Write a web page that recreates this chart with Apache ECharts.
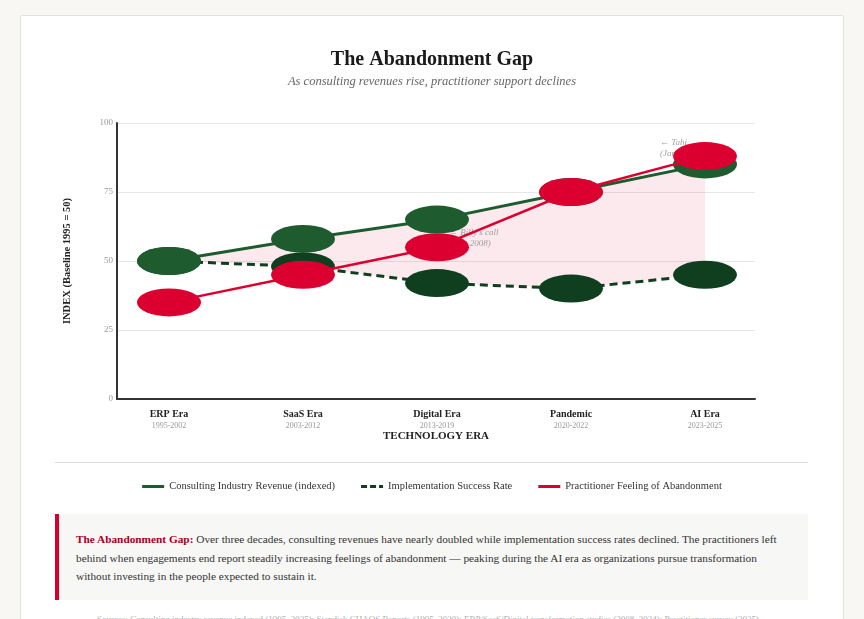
<!DOCTYPE html>
<html>
<head>
<meta charset="utf-8">
<script src="https://cdn.jsdelivr.net/npm/echarts@6/dist/echarts.min.js"></script>
<style>
  html, body { margin:0; padding:0; background:#f8f7f4; width:864px; height:619px; overflow:hidden; font-family:'Liberation Serif', Georgia, serif; }
  #card { position:absolute; left:20px; top:15px; width:822px; height:640px; background:#fff; border:1px solid #e2e2e2; border-radius:2px; }
  #chart { position:absolute; left:0; top:0; width:864px; height:505px; }
  #sep { position:absolute; left:55px; top:462px; width:753px; height:1px; background:#dedede; }
  #callout { position:absolute; left:55px; top:514px; width:753px; height:86px; background:#f7f7f5; border-left:4px solid #d90030; box-sizing:border-box; padding:16px 18px 0 17px; font-size:11.3px; line-height:18.5px; color:#333; }
  #callout b { color:#a8001c; }
  #source { position:absolute; left:97px; top:614px; width:720px; font-size:9px; color:#b0b0b0; white-space:nowrap; overflow:hidden; }
</style>
</head>
<body>
<div id="card"></div>
<div id="chart"></div>
<div id="sep"></div>
<div id="callout"><b>The Abandonment Gap:</b> Over three decades, consulting revenues have nearly doubled while implementation success rates declined. The practitioners left behind when engagements end report steadily increasing feelings of abandonment — peaking during the AI era as organizations pursue transformation without investing in the people expected to sustain it.</div>
<div id="source">Sources: Consulting industry revenue indexed (1995–2025); Standish CHAOS Reports (1995–2020); ERP/SaaS/Digital transformation studies (2008–2024); Practitioner survey (2025)</div>
<script>
const categories = ['ERP Era', 'SaaS Era', 'Digital Era', 'Pandemic', 'AI Era'];
const eraYears = ['1995-2002', '2003-2012', '2013-2019', '2020-2022', '2023-2025'];
const revenue = [50, 58, 65, 75, 85];
const implementation = [50, 48, 42, 40, 45];
const abandonment = [35, 45, 55, 75, 88];
const yTicks = [0, 25, 50, 75, 100];
const annotations = [
  { x: 2, y: 58.2, text: "← Billy's call\n(Sept 2008)", dx: 12 },
  { x: 4, y: 91, text: "← Tahj\n(Jan 2025)", dx: -45 }
];

const serif = "'Liberation Serif', Georgia, serif";
const gapDiff = revenue.map((v, i) => v - implementation[i]);
const chart = echarts.init(document.getElementById('chart'), null, { renderer: 'canvas' });

const cGreen = '#1e5c30', cDark = '#0f3f1f', cRed = '#dc0030';
const solidIcon = 'path://M0,0H22V3H0Z';
const dashIcon = 'path://M0,0H6V3H0Z M9,0H15V3H9Z M18,0H22V3H18Z';

chart.setOption({
  animation: false,
  textStyle: { fontFamily: serif },
  title: {
    text: 'The Abandonment Gap',
    subtext: 'As consulting revenues rise, practitioner support declines',
    left: 'center', top: 45, itemGap: 5,
    textStyle: { fontFamily: serif, fontSize: 20, fontWeight: 'bold', color: '#1a1a1a' },
    subtextStyle: { fontFamily: serif, fontSize: 12.5, fontStyle: 'italic', color: '#666' }
  },
  legend: {
    bottom: 8, left: 'center', itemWidth: 22, itemHeight: 3, itemGap: 26,
    textStyle: { fontFamily: serif, fontSize: 10.5, color: '#333' },
    data: [
      { name: 'Consulting Industry Revenue (indexed)', icon: solidIcon, itemStyle: { color: cGreen } },
      { name: 'Implementation Success Rate', icon: dashIcon, itemStyle: { color: cDark } },
      { name: 'Practitioner Feeling of Abandonment', icon: solidIcon, itemStyle: { color: cRed } }
    ]
  },
  grid: [
    { left: 117, right: 109, top: 123, bottom: 106 },
    { left: 169, right: 159, top: 123, bottom: 106 }
  ],
  xAxis: [
    { type: 'value', gridIndex: 0, min: 0, max: 1,
      axisLine: { show: true, onZero: false, lineStyle: { color: '#333', width: 2 } },
      axisTick: { show: false }, axisLabel: { show: false }, splitLine: { show: false },
      name: 'TECHNOLOGY ERA', nameLocation: 'middle', nameGap: 32,
      nameTextStyle: { fontFamily: serif, fontSize: 11, fontWeight: 'bold', color: '#222' } },
    { type: 'category', gridIndex: 1, data: categories, boundaryGap: false,
      axisLine: { show: false }, axisTick: { show: false },
      axisLabel: { margin: 9, interval: 0,
        formatter: (v, i) => '{a|' + v + '}\n{b|' + eraYears[i] + '}',
        rich: {
          a: { fontFamily: serif, fontSize: 10, fontWeight: 'bold', color: '#222', lineHeight: 12 },
          b: { fontFamily: serif, fontSize: 8, color: '#999', lineHeight: 11 }
        } } }
  ],
  yAxis: [
    { type: 'value', gridIndex: 0, min: 0, max: 100, interval: 25,
      axisLine: { show: true, lineStyle: { color: '#333', width: 2 } },
      axisTick: { show: false },
      axisLabel: { fontFamily: serif, fontSize: 9, color: '#999', margin: 4,
        customValues: yTicks },
      splitLine: { show: true, lineStyle: { color: '#e6e6e6', width: 1 } },
      name: 'INDEX (Baseline 1995 = 50)', nameLocation: 'middle', nameGap: 44, nameRotate: 90,
      nameTextStyle: { fontFamily: serif, fontSize: 10.5, fontWeight: 'bold', color: '#222' } },
    { type: 'value', gridIndex: 1, min: 0, max: 100, show: false }
  ],
  series: [
    { type: 'line', name: '_base', xAxisIndex: 1, yAxisIndex: 1, stack: 'gap', data: implementation,
      symbol: 'none', lineStyle: { width: 0, opacity: 0 }, silent: true, z: 1 },
    { type: 'line', name: '_gap', xAxisIndex: 1, yAxisIndex: 1, stack: 'gap', data: gapDiff,
      symbol: 'none', lineStyle: { width: 0, opacity: 0 }, areaStyle: { color: 'rgba(220,0,48,0.085)', opacity: 1 },
      silent: true, z: 1 },
    { type: 'scatter', name: '_notes', xAxisIndex: 1, yAxisIndex: 1, symbolSize: 0, z: 2,
      data: annotations.map(a => ({ value: [a.x, a.y],
        label: { show: true, position: 'inside', align: 'left', offset: [a.dx, 0], formatter: a.text,
          fontFamily: serif, fontSize: 9, fontStyle: 'italic', color: '#888', lineHeight: 11 } })) },
    { type: 'line', name: 'Implementation Success Rate', xAxisIndex: 1, yAxisIndex: 1, data: implementation,
      symbol: 'circle', symbolSize: [64, 28], itemStyle: { color: cDark },
      lineStyle: { color: cDark, width: 3, type: [8, 5] }, z: 3 },
    { type: 'line', name: 'Consulting Industry Revenue (indexed)', xAxisIndex: 1, yAxisIndex: 1, data: revenue,
      symbol: 'circle', symbolSize: [64, 28], itemStyle: { color: cGreen },
      lineStyle: { color: cGreen, width: 3 }, z: 4 },
    { type: 'line', name: 'Practitioner Feeling of Abandonment', xAxisIndex: 1, yAxisIndex: 1, data: abandonment,
      symbol: 'circle', symbolSize: [64, 28], itemStyle: { color: cRed },
      lineStyle: { color: cRed, width: 2.5 }, z: 5 }
  ]
});
</script>
</body>
</html>
